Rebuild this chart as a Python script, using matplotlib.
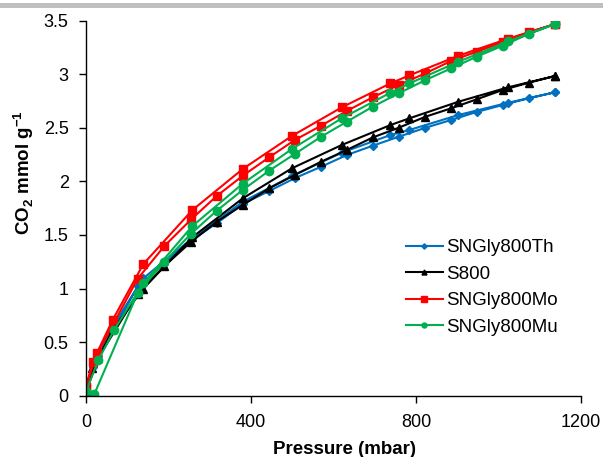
import matplotlib
matplotlib.use("Agg")
import matplotlib.pyplot as plt
from matplotlib.patches import Rectangle

plt.rcParams['font.family'] = ['Liberation Sans', 'DejaVu Sans']
plt.rcParams['mathtext.fontset'] = 'custom'
plt.rcParams['mathtext.rm'] = 'Liberation Sans'
plt.rcParams['mathtext.bf'] = 'Liberation Sans:bold'

# Adsorption (lower branch) and desorption (upper branch) for each sample
th_ads_p = [0, 18, 125, 190, 255, 317, 380, 444, 506, 570, 632, 695, 758, 823, 885, 947, 1010, 1073, 1137]
th_ads_q = [0.05, 0.27, 1.02, 1.23, 1.45, 1.61, 1.79, 1.91, 2.03, 2.137, 2.246, 2.333, 2.417, 2.501, 2.573, 2.648, 2.713, 2.776, 2.832]
th_des_p = [1137, 1023, 903, 784, 738, 620, 499, 380, 258, 139, 65, 30, 0]
th_des_q = [2.832, 2.734, 2.62, 2.48, 2.433, 2.268, 2.05, 1.81, 1.47, 1.096, 0.65, 0.37, 0.05]

s8_ads_p = [0, 14, 125, 190, 255, 317, 380, 444, 506, 570, 632, 695, 758, 823, 885, 947, 1010, 1073, 1137]
s8_ads_q = [0.04, 0.256, 0.95, 1.21, 1.437, 1.624, 1.78, 1.935, 2.06, 2.184, 2.293, 2.41, 2.501, 2.604, 2.682, 2.766, 2.853, 2.921, 2.984]
s8_des_p = [1137, 1023, 903, 784, 738, 620, 499, 380, 258, 139, 65, 30, 0]
s8_des_q = [2.984, 2.878, 2.744, 2.589, 2.526, 2.34, 2.122, 1.842, 1.48, 1.0, 0.62, 0.35, 0.04]

mo_ads_p = [0, 16, 125, 190, 255, 317, 380, 444, 506, 570, 632, 695, 758, 823, 885, 947, 1010, 1073, 1137]
mo_ads_q = [0.084, 0.31, 1.09, 1.397, 1.646, 1.864, 2.053, 2.225, 2.386, 2.52, 2.657, 2.785, 2.90, 3.009, 3.124, 3.21, 3.298, 3.39, 3.469]
mo_des_p = [1137, 1023, 903, 784, 738, 620, 499, 380, 258, 139, 65, 26, 0]
mo_des_q = [3.469, 3.332, 3.173, 2.99, 2.915, 2.691, 2.424, 2.116, 1.733, 1.229, 0.71, 0.395, 0.084]

mu_ads_p = [20, 125, 190, 254, 317, 380, 444, 506, 570, 632, 695, 758, 823, 885, 947, 1010, 1073, 1137]
mu_ads_q = [0.013, 0.956, 1.25, 1.51, 1.727, 1.92, 2.10, 2.256, 2.417, 2.557, 2.697, 2.822, 2.946, 3.055, 3.164, 3.266, 3.376, 3.469]
mu_des_p = [1137, 1023, 903, 784, 738, 620, 499, 380, 258, 139, 68, 30, 0]
mu_des_q = [3.469, 3.307, 3.117, 2.915, 2.828, 2.589, 2.302, 1.979, 1.584, 1.049, 0.613, 0.333, 0.04]

labels = ["SNGly800Th", "S800", "SNGly800Mo", "SNGly800Mu"]
colors = ["#0070C0", "#000000", "#FF0000", "#00B050"]
markers = ["D", "^", "s", "o"]
msizes = [4.5, 6, 6.3, 6]

series = [
    (th_ads_p + th_des_p, th_ads_q + th_des_q),
    (s8_ads_p + s8_des_p, s8_ads_q + s8_des_q),
    (mo_ads_p + mo_des_p, mo_ads_q + mo_des_q),
    (mu_ads_p + mu_des_p, mu_ads_q + mu_des_q),
]

fig = plt.figure(figsize=(6.03, 4.57), dpi=100)
fig.patches.append(Rectangle((0, 1 - 8 / 457), 1, 5 / 457, transform=fig.transFigure,
                             facecolor="#C0C0C0", edgecolor="none"))
ax = fig.add_axes([86 / 603, 1 - 395.7 / 457, (581 - 86) / 603, (395.7 - 20.7) / 457])

handles = []
for (p, q), lab, c, m, ms in zip(series, labels, colors, markers, msizes):
    h, = ax.plot(p, q, color=c, marker=m, markersize=ms, linewidth=1.5, label=lab,
                 markeredgecolor=c, markerfacecolor=c)
    handles.append(h)

ax.set_xlim(0, 1200)
ax.set_ylim(0, 3.5)
ax.set_xticks([0, 400, 800, 1200])
ax.set_yticks([0, 0.5, 1, 1.5, 2, 2.5, 3, 3.5])
ax.set_yticklabels(["0", "0.5", "1", "1.5", "2", "2.5", "3", "3.5"])
ax.tick_params(direction="out", length=5, width=1, labelsize=13, colors="black")
ax.tick_params(axis="x", pad=8)
ax.tick_params(axis="y", pad=7.5)
for s in ["top", "right"]:
    ax.spines[s].set_visible(False)
for s in ["left", "bottom"]:
    ax.spines[s].set_linewidth(1)

ax.set_xlabel("Pressure (mbar)", fontsize=13.5, fontweight="bold")
ax.xaxis.set_label_coords(0.523, -0.122)
ax.set_ylabel("CO$_\\mathbf{2}$ mmol g$^\\mathbf{-1}$", fontsize=13.5, fontweight="bold")
ax.yaxis.set_label_coords(-0.101, 0.594)

leg = ax.legend(handles=handles, loc="center left", bbox_to_anchor=(0.612, 0.2885),
                frameon=False, fontsize=13.5, labelspacing=0.5, handlelength=1.97,
                handletextpad=0.2, markerscale=0.6)

fig.savefig("out.png", dpi=100)
